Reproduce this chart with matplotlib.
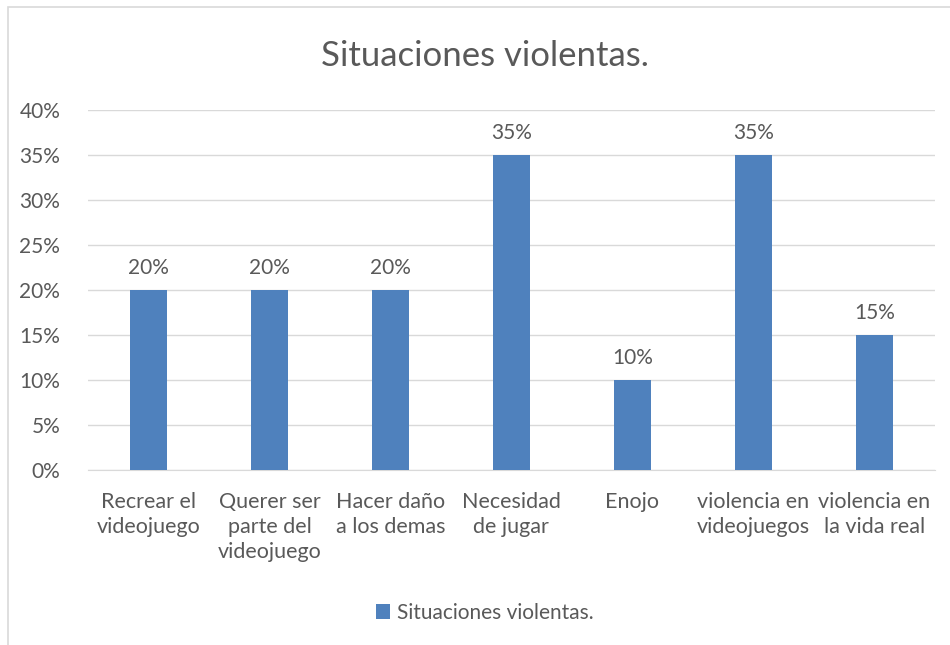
import numpy as np
import matplotlib.pyplot as plt
from matplotlib.patches import Rectangle

# Data
categories = ['Recrear el\nvideojuego', 'Querer ser\nparte del\nvideojuego', 'Hacer daño\na los demas',
              'Necesidad\nde jugar', 'Enojo', 'violencia en\nvideojuegos', 'violencia en\nla vida real']
values = [0.20, 0.20, 0.20, 0.35, 0.10, 0.35, 0.15]
series_name = 'Situaciones violentas.'

plt.rcParams['font.family'] = ['Lato', 'DejaVu Sans']
txt = '#595959'

fig = plt.figure(figsize=(9.5, 6.45), dpi=100)
ax = fig.add_axes([0.0926, 0.2713, 0.8915, 0.5582])

# chart frame
fig.patches.append(Rectangle((8 / 950, -0.01), 1.0, 1.0 - 7 / 645 + 0.01, transform=fig.transFigure,
                             fill=False, edgecolor='#D9D9D9', linewidth=1.2))

x = np.arange(len(categories))
bars = ax.bar(x, values, width=0.31, color='#4F81BD', label=series_name, zorder=3)
for xi, v in zip(x, values):
    ax.text(xi, v + 0.013, f'{v:.0%}', ha='center', va='bottom', fontsize=15, color=txt)

ax.set_xlim(-0.5, len(categories) - 0.5)
ax.set_ylim(0, 0.40)
ax.set_yticks(np.arange(0, 0.401, 0.05))
ax.set_yticklabels([f'{t:.0%}' for t in np.arange(0, 0.401, 0.05)], fontsize=15, color=txt)
ax.set_xticks(x)
ax.set_xticklabels(categories, fontsize=15.5, color=txt, linespacing=1.3)
ax.tick_params(axis='both', length=0)
ax.tick_params(axis='x', pad=16)
ax.tick_params(axis='y', pad=20)
ax.grid(axis='y', color='#D9D9D9', linewidth=1, zorder=0)
for s in ['top', 'right', 'left']:
    ax.spines[s].set_visible(False)
ax.spines['bottom'].set_color('#D9D9D9')

fig.text(0.51, 0.913, 'Situaciones violentas.', ha='center', va='center', fontsize=25, color=txt)
fig.legend(loc='center', bbox_to_anchor=(0.51, 0.05), frameon=False, fontsize=15,
           handlelength=0.7, handleheight=0.7, handletextpad=0.3, labelcolor=txt)

fig.savefig('out.png', dpi=100)
